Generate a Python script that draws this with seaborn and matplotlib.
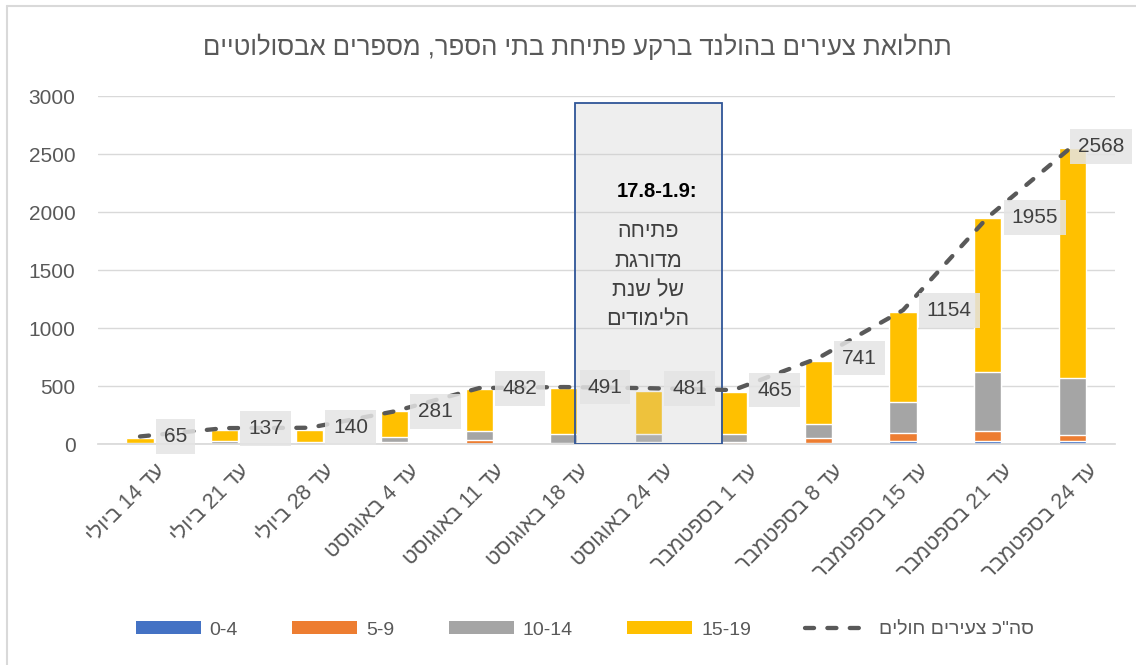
import re
import numpy as np
import pandas as pd
import matplotlib
matplotlib.use("Agg")
import matplotlib.pyplot as plt
import matplotlib.transforms as mtransforms
from matplotlib.patches import Rectangle, Patch
from matplotlib.lines import Line2D
import seaborn as sns

# ---------------- data ----------------
weeks = ["עד 14 ביולי", "עד 21 ביולי", "עד 28 ביולי", "עד 4 באוגוסט",
         "עד 11 באוגוסט", "עד 18 באוגוסט", "עד 24 באוגוסט", "עד 1 בספטמבר",
         "עד 8 בספטמבר", "עד 15 בספטמבר", "עד 21 בספטמבר", "עד 24 בספטמבר"]
age_0_4 = [1, 1, 1, 2, 3, 2, 2, 3, 5, 22, 25, 28]
age_5_9 = [2, 3, 3, 15, 32, 10, 12, 14, 47, 73, 84, 50]
age_10_14 = [8, 25, 10, 47, 81, 72, 72, 69, 120, 269, 516, 495]
age_15_19 = [44, 93, 108, 218, 355, 401, 374, 365, 546, 776, 1323, 1983]
totals = [65, 137, 140, 281, 482, 491, 481, 465, 741, 1154, 1955, 2568]
series_names = ["0-4", "5-9", "10-14", "15-19"]
total_name = 'סה"כ צעירים חולים'
title = "תחלואת צעירים בהולנד ברקע פתיחת בתי הספר, מספרים אבסולוטיים"
box_head = "17.8-1.9:"
box_lines = ["פתיחה", "מדורגת", "של שנת", "הלימודים"]
yticks = [0, 500, 1000, 1500, 2000, 2500, 3000]

colors = ["#4472C4", "#ED7D31", "#A5A5A5", "#FFC000"]
line_color = "#595959"
text_color = "#595959"


def rtl(s):
    """Convert logical-order Hebrew text to visual order for LTR rendering."""
    r = s[::-1]
    return re.sub(r"[0-9][0-9.]*", lambda m: m.group(0)[::-1], r)


# ---------------- style ----------------
sns.set_theme(style="white")
plt.rcParams["font.family"] = ["Liberation Sans", "DejaVu Sans"]
plt.rcParams["text.color"] = text_color

W, H = 1136, 665
fig = plt.figure(figsize=(W / 100, H / 100), dpi=100)
left_px, right_px, top_px, bot_px = 97.6, 1115, 96, 444
ax = fig.add_axes([left_px / W, 1 - bot_px / H, (right_px - left_px) / W, (bot_px - top_px) / H])

# figure frame (top and left edges)
fig.add_artist(Line2D([7 / W, 7 / W], [0, 1 - 6 / H], transform=fig.transFigure, color="#d9d9d9", lw=1.5))
fig.add_artist(Line2D([7 / W, 1], [1 - 6 / H, 1 - 6 / H], transform=fig.transFigure, color="#d9d9d9", lw=1.5))

# ---------------- stacked bars (cumulative overlap) ----------------
stack = np.array([age_0_4, age_5_9, age_10_14, age_15_19])
cum = np.cumsum(stack, axis=0)
for k in range(3, -1, -1):
    df = pd.DataFrame({"week": weeks, "value": cum[k]})
    sns.barplot(data=df, x="week", y="value", order=weeks, color=colors[k],
                saturation=1, width=0.32, errorbar=None, ax=ax, zorder=2)

idx = np.arange(len(weeks))

# shaded annotation box
ax.add_patch(Rectangle((5.13, 0), 6.86 - 5.13, 2937, facecolor="#c9c9c9", alpha=0.3,
                       edgecolor="none", zorder=3))
ax.add_patch(Rectangle((5.13, 0), 6.86 - 5.13, 2937, facecolor="none",
                       edgecolor="#2F5597", lw=1.3, zorder=3.1))
ax.text(6.1, 2180, box_head, ha="center", va="center", fontsize=14.5,
        fontweight="bold", color="black", zorder=6)
for j, ln in enumerate(box_lines):
    ax.text(5.99, 1830 - j * 254, rtl(ln), ha="center", va="center", fontsize=15.5,
            color="#404040", zorder=6)

# total line
sns.lineplot(x=idx, y=totals, ax=ax, color=line_color, lw=3.1,
             linestyle=(0, (2.1, 3.1)), dash_capstyle="round", zorder=4, legend=False)

# data labels
for i, v in enumerate(totals):
    off = 17 if i < len(totals) - 1 else 4
    ax.annotate(str(v), (idx[i], v), xytext=(off, 0), textcoords="offset points",
                ha="left", va="center", fontsize=15, color="#404040", zorder=7,
                bbox=dict(boxstyle="square,pad=0.38", facecolor="#e4e4e4",
                          edgecolor="none", alpha=0.85))

# ---------------- axes ----------------
ax.set_xlim(-0.5, len(weeks) - 0.5)
ax.set_ylim(0, 3000)
ax.set_yticks(yticks)
ax.set_yticklabels([str(t) for t in yticks], fontsize=15, color=text_color)
ax.tick_params(axis="y", length=0, pad=16)
ax.tick_params(axis="x", length=0, pad=0)
ax.yaxis.grid(True, color="#d9d9d9", lw=1)
ax.set_axisbelow(True)
for s in ["top", "right", "left"]:
    ax.spines[s].set_visible(False)
ax.spines["bottom"].set_color("#d9d9d9")
ax.set_xlabel("")
ax.set_ylabel("")

ax.set_xticks(idx)
ax.set_xticklabels([rtl(w) for w in weeks], rotation=45, ha="right",
                   rotation_mode="anchor", fontsize=15.5, color=text_color, va="center")
offset = mtransforms.ScaledTranslation(22 / 100, -24 / 100, fig.dpi_scale_trans)
for lab in ax.get_xticklabels():
    lab.set_transform(lab.get_transform() + offset)

fig.text(0.508, 1 - 47 / H, rtl(title), ha="center", va="center", fontsize=18.5, color=text_color)

# ---------------- legend ----------------
handles = [Patch(facecolor=c, edgecolor="none") for c in colors]
handles.append(Line2D([0], [0], color=line_color, lw=3.1, linestyle=(0, (2.1, 3.1)),
                      dash_capstyle="round"))
labels = series_names + [rtl(total_name)]
fig.legend(handles, labels, loc="center", bbox_to_anchor=(585 / W, 1 - 630 / H), ncol=5,
           frameon=False, fontsize=14, handlelength=3.35, handleheight=0.65,
           handletextpad=0.45, columnspacing=2.8, labelcolor=text_color)

fig.savefig("out.png", dpi=100)
